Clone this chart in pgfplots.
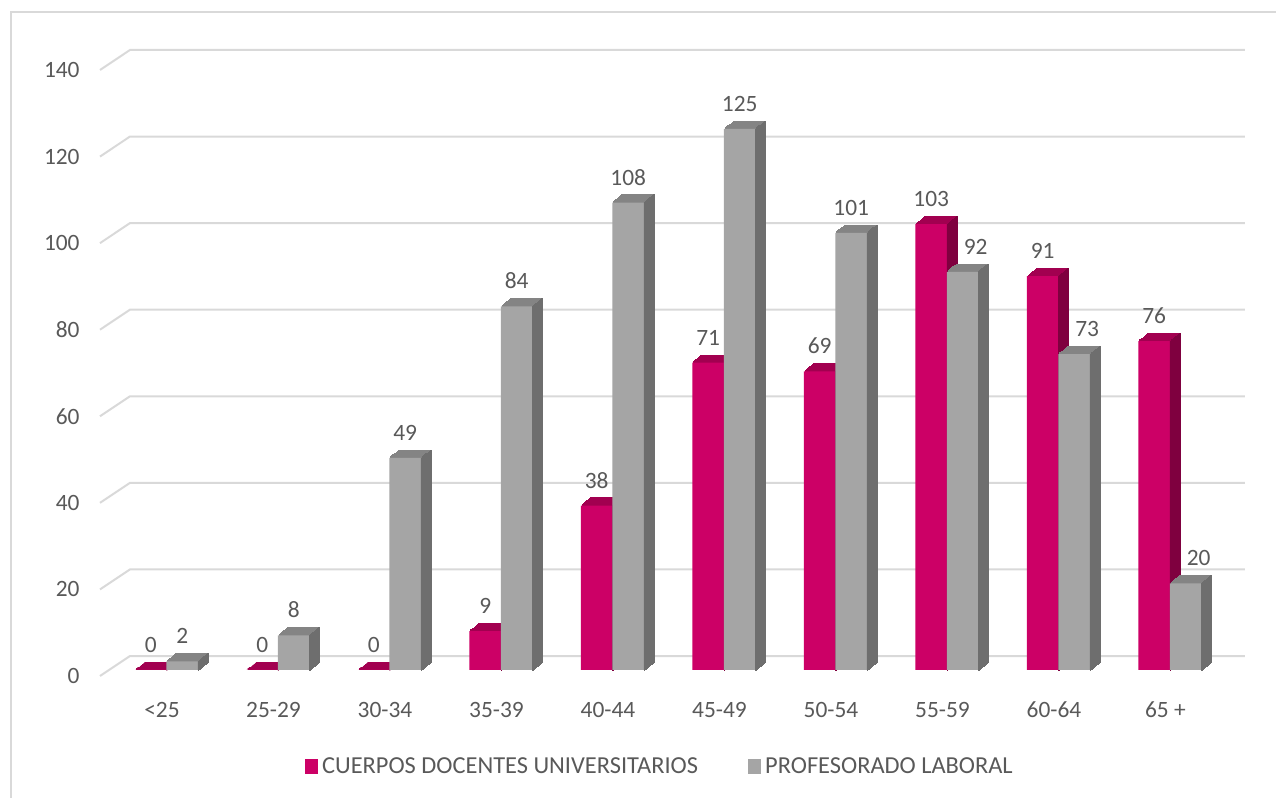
\documentclass[border=0pt]{standalone}
\usepackage{pgfplots}
\pgfplotsset{compat=1.18}
\usepackage{fontspec}
\setmainfont{Carlito}
\definecolor{pinkfront}{HTML}{CC0066}
\definecolor{pinktop}{HTML}{A20050}
\definecolor{pinkside}{HTML}{7F003F}
\definecolor{grayfront}{HTML}{A5A5A5}
\definecolor{graytop}{HTML}{848484}
\definecolor{grayside}{HTML}{6E6E6E}
\definecolor{textgray}{HTML}{595959}
\definecolor{gridgray}{HTML}{D9D9D9}
\newcommand{\fs}{\fontsize{11.7}{14}\selectfont}
\newcommand{\fl}{\fontsize{12.2}{14}\selectfont}
\tikzset{
  ext/.style={
    preaction={fill=#1,draw=#1,line width=.6pt,transform canvas={shift={(0.6pt,0.475pt)}}},
    preaction={fill=#1,draw=#1,line width=.6pt,transform canvas={shift={(1.2pt,0.95pt)}}},
    preaction={fill=#1,draw=#1,line width=.6pt,transform canvas={shift={(1.8pt,1.425pt)}}},
    preaction={fill=#1,draw=#1,line width=.6pt,transform canvas={shift={(2.4pt,1.9pt)}}},
    preaction={fill=#1,draw=#1,line width=.6pt,transform canvas={shift={(3.0pt,2.375pt)}}},
    preaction={fill=#1,draw=#1,line width=.6pt,transform canvas={shift={(3.6pt,2.85pt)}}},
    preaction={fill=#1,draw=#1,line width=.6pt,transform canvas={shift={(4.2pt,3.325pt)}}},
    preaction={fill=#1,draw=#1,line width=.6pt,transform canvas={shift={(4.75pt,3.75pt)}}}
  }
}
\pgfplotstableread{
x cuerpos laboral ls
0 0 2 0
1 0 8 0
2 0 49 0
3 9 84 0
4 38 108 0
5 71 125 0
6 69 101 0
7 103 92 6.5
8 91 73 6.5
9 76 20 6.5
}\data
\begin{document}
\begin{tikzpicture}
\useasboundingbox (0,0) rectangle (638pt,399pt);
\draw[gridgray, line width=1pt] (5.5pt,0pt) -- (5.5pt,393pt) -- (638pt,393pt);
\begin{axis}[
  at={(50pt,61pt)}, anchor=south west,
  x=55.75pt, y=2.1643pt,
  xmin=-0.596, xmax=9.673, ymin=-1.386, ymax=143.233,
  clip=false,
  axis line style={draw=none},
  major tick length=0pt,
  xtick={0,...,9},
  xticklabels={<25,25-29,30-34,35-39,40-44,45-49,50-54,55-59,60-64,65 +},
  ytick={-1.386,18.614,38.614,58.614,78.614,98.614,118.614,138.614},
  yticklabels={0,20,40,60,80,100,120,140},
  ticklabel style={font=\fs, text=textgray, inner sep=0pt},
  xticklabel style={anchor=base, yshift=-20.75pt, xshift=-2.25pt},
  yticklabel style={anchor=east, xshift=-10pt},
  ybar=0pt, bar width=15.75pt,
  /pgf/number format/assume math mode=true,
  every node near coord/.append style={font=\fs, text=textgray, anchor=base, yshift=8.75pt, inner sep=0pt},
  legend style={draw=none, fill=none, inner sep=0pt, outer sep=0pt,
    at={(axis cs:1.242,-22.5)}, anchor=west, font=\fl, text=textgray,
    nodes={inner sep=0.5pt},
    legend columns=2,
    /tikz/every odd column/.append style={column sep=1.5pt},
    /tikz/every even column/.append style={column sep=24.5pt}},
]
\draw[gridgray, line width=1pt] (axis cs:-0.596,-1.386) -- (axis cs:-0.3274,3.233) -- (axis cs:9.673,3.233);
\draw[gridgray, line width=1pt] (axis cs:-0.596,18.614) -- (axis cs:-0.3274,23.233) -- (axis cs:9.673,23.233);
\draw[gridgray, line width=1pt] (axis cs:-0.596,38.614) -- (axis cs:-0.3274,43.233) -- (axis cs:9.673,43.233);
\draw[gridgray, line width=1pt] (axis cs:-0.596,58.614) -- (axis cs:-0.3274,63.233) -- (axis cs:9.673,63.233);
\draw[gridgray, line width=1pt] (axis cs:-0.596,78.614) -- (axis cs:-0.3274,83.233) -- (axis cs:9.673,83.233);
\draw[gridgray, line width=1pt] (axis cs:-0.596,98.614) -- (axis cs:-0.3274,103.233) -- (axis cs:9.673,103.233);
\draw[gridgray, line width=1pt] (axis cs:-0.596,118.614) -- (axis cs:-0.3274,123.233) -- (axis cs:9.673,123.233);
\draw[gridgray, line width=1pt] (axis cs:-0.596,138.614) -- (axis cs:-0.3274,143.233) -- (axis cs:9.673,143.233);
% pink: front + top
\addplot[fill=pinkfront, draw=none, bar shift=-7.875pt, ext=pinktop,
  nodes near coords, forget plot] table[x=x, y=cuerpos] {\data};
% pink side
\addplot[fill=pinkside, draw=pinkside, line width=.3pt, bar width=0.4pt, bar shift=0.2pt, ext=pinkside, forget plot]
  table[x=x, y=cuerpos] {\data};
% gray: front + top
\addplot[fill=grayfront, draw=none, bar shift=7.875pt, ext=graytop,
  nodes near coords, visualization depends on={\thisrow{ls} \as \lshift},
  every node near coord/.append style={xshift=\lshift pt}, forget plot]
  table[x=x, y=laboral] {\data};
% gray side
\addplot[fill=grayside, draw=grayside, line width=.3pt, bar width=0.4pt, bar shift=15.95pt, ext=grayside, forget plot]
  table[x=x, y=laboral] {\data};
\addlegendimage{legend image code/.code={\fill[pinkfront] (0pt,-3pt) rectangle (6.2pt,3.8pt);}}
\addlegendentry{CUERPOS DOCENTES UNIVERSITARIOS}
\addlegendimage{legend image code/.code={\fill[grayfront] (0pt,-3pt) rectangle (6.2pt,3.8pt);}}
\addlegendentry{PROFESORADO LABORAL}
\end{axis}
\end{tikzpicture}
\end{document}
